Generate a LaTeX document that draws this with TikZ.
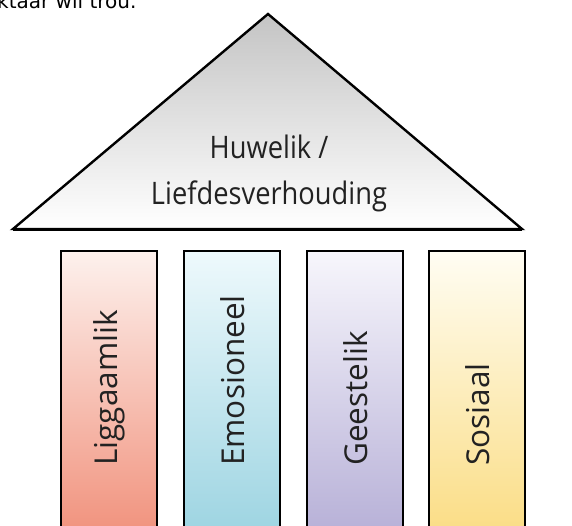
\documentclass[tikz,border=0pt]{standalone}
\usepackage{fontspec}
\setmainfont{Open Sans}
\newfontfamily\rooffont[FakeStretch=0.88]{Open Sans}
\newfontfamily\topfont{DejaVu Sans}
\definecolor{txt}{HTML}{222222}
\definecolor{pAtop}{HTML}{FDF1ED}\definecolor{pAbot}{HTML}{F08C76}
\definecolor{pBtop}{HTML}{EEF9FC}\definecolor{pBbot}{HTML}{98D2E0}
\definecolor{pCtop}{HTML}{F7F6FC}\definecolor{pCbot}{HTML}{B3ACD5}
\definecolor{pDtop}{HTML}{FFFDF3}\definecolor{pDbot}{HTML}{FADB7E}
\definecolor{roofTop}{HTML}{C4C4C4}
\begin{document}
\begin{tikzpicture}[x=1pt,y=-1pt,
  pillar/.style={draw=black,line width=2.4pt,minimum width=96pt,minimum height=300pt,anchor=north west,inner sep=0pt},
  plabel/.style={rotate=90,anchor=west,inner sep=0pt,text=txt,font=\fontsize{31.5}{36}\selectfont},
  rooflabel/.style={align=center,text=txt,font=\rooffont\fontsize{31}{46}\selectfont,inner sep=0pt}]
\useasboundingbox (0,0) rectangle (572,525);
\clip (0,0) rectangle (572,525);
\fill[white] (0,0) rectangle (572,525);
\node[anchor=base west,inner sep=0pt,font=\topfont\fontsize{20}{24}\selectfont] (toptext) at (-3,8) {ktaar wil trou.};
% roof
\coordinate (apex) at (268,14);
\coordinate (bl) at (13,229);
\coordinate (br) at (522,229);
\shade[top color=roofTop,bottom color=white,draw=black,line width=2.4pt,line join=miter] (apex) -- (br) -- (bl) -- cycle;
\draw[line width=3pt] (bl) -- (br);
\node[rooflabel] (roof) at (269,173) {Huwelik /\\Liefdesverhouding};
% pillars
\node[pillar,top color=pAtop,bottom color=pAbot] (p1) at (60,250) {};
\node[pillar,top color=pBtop,bottom color=pBbot] (p2) at (183,250) {};
\node[pillar,top color=pCtop,bottom color=pCbot] (p3) at (306,250) {};
\node[pillar,top color=pDtop,bottom color=pDbot] (p4) at (428,250) {};
\node[plabel] (l1) at (p1.north |- 0,466) {Liggaamlik};
\node[plabel] (l2) at (p2.north |- 0,466) {Emosioneel};
\node[plabel] (l3) at (p3.north |- 0,466) {Geestelik};
\node[plabel] (l4) at (p4.north |- 0,466) {Sosiaal};
\end{tikzpicture}
\end{document}
